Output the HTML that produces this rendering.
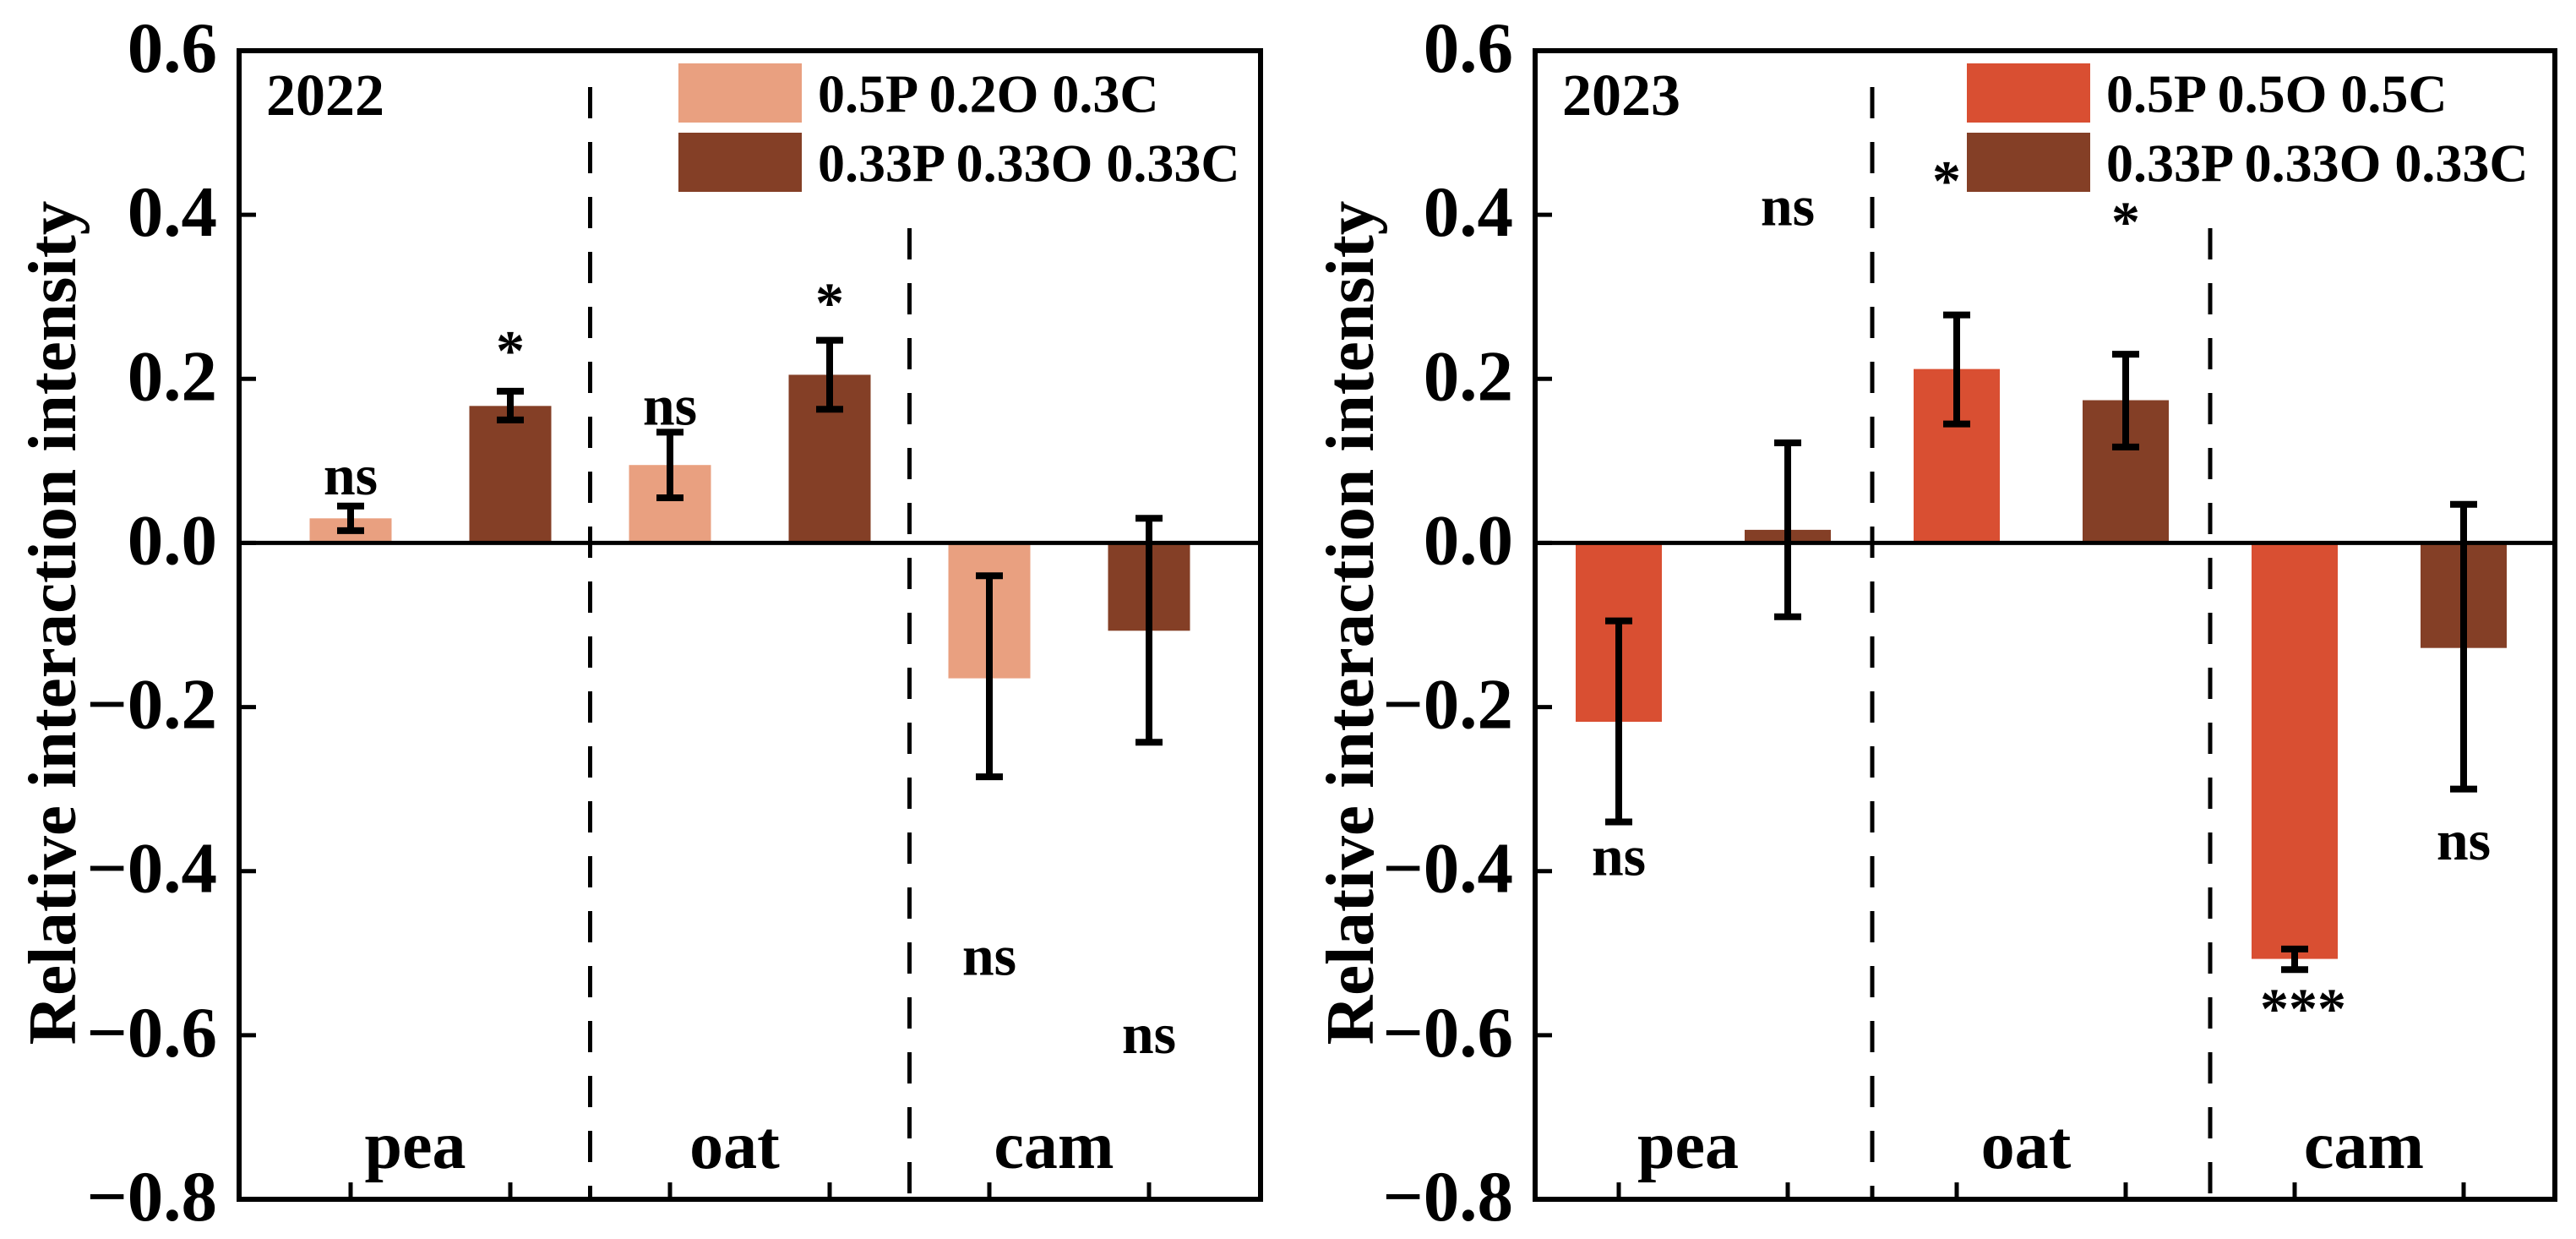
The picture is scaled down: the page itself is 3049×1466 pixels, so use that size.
<!DOCTYPE html>
<html><head><meta charset="utf-8"><style>
body{margin:0;background:#fff}
svg{display:block}
text{font-family:"Liberation Serif",serif;font-weight:bold;fill:#000}
</style></head><body>
<svg id="chart" width="3049" height="1466" viewBox="0 0 3049 1466" xmlns="http://www.w3.org/2000/svg"></svg>
<script>
const groups = ["pea","oat","cam"];
const yTicks = [0.6,0.4,0.2,0.0,-0.2,-0.4,-0.6,-0.8];
const tickLabels = ["0.6","0.4","0.2","0.0","\u22120.2","\u22120.4","\u22120.6","\u22120.8"];
const years = ["2022","2023"];
const legendA = ["0.5P 0.2O 0.3C","0.5P 0.5O 0.5C"];
const legendB = ["0.33P 0.33O 0.33C","0.33P 0.33O 0.33C"];
const valsA2022 = [0.030,0.095,-0.165];
const errA2022Hi = [0.045,0.135,-0.040];
const errA2022Lo = [0.015,0.055,-0.285];
const valsB2022 = [0.167,0.205,-0.107];
const errB2022Hi = [0.185,0.247,0.030];
const errB2022Lo = [0.150,0.163,-0.243];
const valsA2023 = [-0.218,0.212,-0.507];
const errA2023Hi = [-0.095,0.278,-0.495];
const errA2023Lo = [-0.340,0.145,-0.520];
const valsB2023 = [0.016,0.174,-0.128];
const errB2023Hi = [0.122,0.230,0.047];
const errB2023Lo = [-0.090,0.117,-0.300];
const sigA2022 = ["ns","ns","ns"], sigAy2022 = [0.083,0.168,-0.503];
const sigB2022 = ["*","*","ns"], sigBy2022 = [0.235,0.293,-0.598];
const sigA2023 = ["ns","*","***"], sigAy2023 = [-0.381,0.442,-0.567];
const sigB2023 = ["ns","*","ns"], sigBy2023 = [0.411,0.392,-0.362];

const NS="http://www.w3.org/2000/svg";
const svg=document.getElementById('chart');
function mk(tag,attrs,parent,txt){const e=document.createElementNS(NS,tag);for(const k in attrs)e.setAttribute(k,attrs[k]);if(txt!==undefined)e.textContent=txt;(parent||svg).appendChild(e);return e;}

const panels=[
 {left:283,right:1492,top:60,bottom:1419,ticks0:415,step:189,bw:97,colA:"#E9A080",colB:"#843F26",
  A:valsA2022,AH:errA2022Hi,AL:errA2022Lo,B:valsB2022,BH:errB2022Hi,BL:errB2022Lo,
  sA:sigA2022,sAy:sigAy2022,sB:sigB2022,sBy:sigBy2022,sAdx:[0,0,0],sBdx:[0,0,0],
  legX:803,year:0,yl:62},
 {left:1817,right:3024,top:60,bottom:1419,ticks0:1916,step:200,bw:102,colA:"#D94F32",colB:"#843F26",
  A:valsA2023,AH:errA2023Hi,AL:errA2023Lo,B:valsB2023,BH:errB2023Hi,BL:errB2023Lo,
  sA:sigA2023,sAy:sigAy2023,sB:sigB2023,sBy:sigBy2023,sAdx:[0,-12,10],sBdx:[0,0,0],
  legX:2328,year:1,yl:1598}
];
const dashStart=[103,270];
panels.forEach((p,pi)=>{
 const g=mk('g',{});
 
 
 const y=v=>p.top+(0.6-v)/1.4*(p.bottom-p.top);
 const xc=i=>p.ticks0+i*p.step;
 [1,2].forEach(k=>{
  const x=(xc(2*k-1)+xc(2*k))/2;
  const l=mk('line',{x1:x,x2:x,y1:dashStart[k-1],y2:p.bottom,stroke:"#000","stroke-width":5,"stroke-dasharray":"37 28"},g);
  
  
 });
 const series=[[p.A,p.AH,p.AL,p.colA,'a'],[p.B,p.BH,p.BL,p.colB,'b']];
 groups.forEach((gr,gi)=>{
  series.forEach((s,si)=>{
   const cx=xc(gi*2+si);
   const v=s[0][gi];
   const r=mk('rect',{x:cx-p.bw/2,y:Math.min(y(v),y(0)),width:p.bw,height:Math.abs(y(v)-y(0)),fill:s[3]},g);
   
   
   const eb=mk('g',{stroke:"#000","stroke-width":8},g);
   
   
   mk('line',{x1:cx,x2:cx,y1:y(s[1][gi]),y2:y(s[2][gi])},eb);
   mk('line',{x1:cx-16,x2:cx+16,y1:y(s[1][gi]),y2:y(s[1][gi])},eb);
   mk('line',{x1:cx-16,x2:cx+16,y1:y(s[2][gi]),y2:y(s[2][gi])},eb);
  });
  [[p.sA,p.sAy,p.sAdx,0],[p.sB,p.sBy,p.sBdx,1]].forEach(s=>{
   const t=mk('text',{x:xc(gi*2+s[3])+s[2][gi],y:y(s[1][gi]),'text-anchor':'middle','dominant-baseline':'central','font-size':68},g,s[0][gi]);
   
   
  });
  const gl=mk('text',{x:(xc(gi*2)+xc(gi*2+1))/2-18,y:1382,'text-anchor':'middle','font-size':80},g,gr);
  
  
 });
 const z=mk('line',{x1:p.left,x2:p.right,y1:y(0),y2:y(0),stroke:"#000","stroke-width":5},g);
 
 
 const f=mk('rect',{x:p.left,y:p.top,width:p.right-p.left,height:p.bottom-p.top,fill:"none",stroke:"#000","stroke-width":6},g);
 
 
 yTicks.forEach((v,i)=>{
  mk('line',{x1:p.left,x2:p.left+20,y1:y(v),y2:y(v),stroke:"#000","stroke-width":5},g);
  const t=mk('text',{x:p.left-26,y:y(v)-3,'text-anchor':'end','dominant-baseline':'central','font-size':85},g,tickLabels[i]);
  
  
 });
 for(let i=0;i<6;i++) mk('line',{x1:xc(i),x2:xc(i),y1:p.bottom,y2:p.bottom-20,stroke:"#000","stroke-width":5},g);
 const yt=mk('text',{transform:`translate(${p.yl},737) rotate(-90)`,'text-anchor':'middle','dominant-baseline':'central','font-size':81},g,'Relative interaction intensity');
 
 
 const yr=mk('text',{x:p.left+32,y:136,'font-size':70},g,years[pi]);
 
 
 const lg=mk('g',{},g);
 
 
 [[legendA[pi],p.colA,75],[legendB[pi],p.colB,157]].forEach(e=>{
  const le=mk('g',{},lg);
  
  
  mk('rect',{x:p.legX,y:e[2],width:146,height:70,fill:e[1]},le);
  mk('text',{x:p.legX+165,y:e[2]+36,'dominant-baseline':'central','font-size':64},le,e[0]);
 });
});
</script>
</body></html>
